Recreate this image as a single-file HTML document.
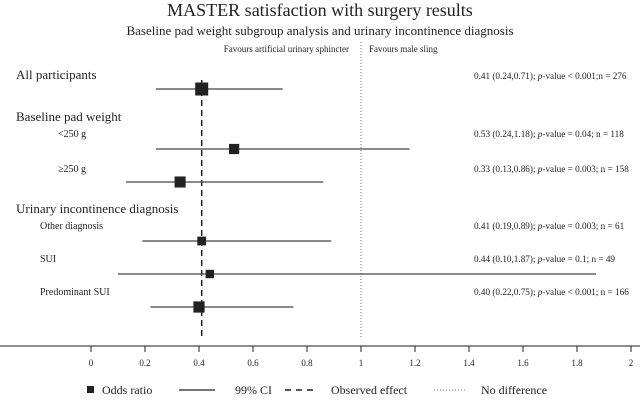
<!DOCTYPE html>
<html><head><meta charset="utf-8"><style>
body{margin:0;background:#fff;}
svg{display:block;font-family:"Liberation Serif",serif;}
</style></head><body>
<svg width="640" height="404" viewBox="0 0 640 404">
<text x="320" y="16" font-size="18" text-anchor="middle" fill="#222">MASTER satisfaction with surgery results</text>
<text x="320" y="35" font-size="13" text-anchor="middle" fill="#222">Baseline pad weight subgroup analysis and urinary incontinence diagnosis</text>
<text x="349" y="52" font-size="9" text-anchor="end" fill="#222">Favours artificial urinary sphincter</text>
<text x="369" y="52" font-size="9" fill="#222">Favours male sling</text>
<g id="plot"></g>
</svg>
<script>
const labels=["All participants","<250 g","≥250 g","Other diagnosis","SUI","Predominant SUI"];
const orValues=[0.41,0.53,0.33,0.41,0.44,0.40];
const ciLow=[0.24,0.24,0.13,0.19,0.10,0.22];
const ciHigh=[0.71,1.18,0.86,0.89,1.87,0.75];
const sampleN=[276,118,158,61,49,166];
const pTexts=["< 0.001;","= 0.04;","= 0.003;","= 0.003;","= 0.1;","< 0.001;"];
const ticks=[0,0.2,0.4,0.6,0.8,1,1.2,1.4,1.6,1.8,2];
const observed=0.41;
const NS="http://www.w3.org/2000/svg";
const g=document.getElementById('plot');
const x=v=>91+v*270;
const rowY=[89,149,182,241,274,307];
const labY=[79,137,172,229,262,295];
const labX=[16,58,58,40,40,40];
const labSize=[13,10,10,10,10,10];
function mk(t,a){const e=document.createElementNS(NS,t);for(const k in a)e.setAttribute(k,a[k]);g.appendChild(e);return e;}
let h=mk('text',{x:16,y:121,'font-size':13,fill:'#222'});h.textContent='Baseline pad weight';


h=mk('text',{x:16,y:213,'font-size':13,fill:'#222'});h.textContent='Urinary incontinence diagnosis';


let l=mk('line',{x1:x(1),x2:x(1),y1:42,y2:337,stroke:'#777','stroke-width':1,'stroke-dasharray':'1,2'});


l=mk('line',{x1:x(observed),x2:x(observed),y1:80,y2:338,stroke:'#222','stroke-width':1.5,'stroke-dasharray':'6,4'});


const maxN=Math.max(...sampleN);
labels.forEach((lab,i)=>{
  const t=mk('text',{x:labX[i],y:labY[i],'font-size':labSize[i],fill:'#222'});t.textContent=lab;
  
  
  const c=mk('line',{x1:x(ciLow[i]),x2:x(ciHigh[i]),y1:rowY[i],y2:rowY[i],stroke:'#444','stroke-width':1.3});
  
  
  const s=5+8*Math.sqrt(sampleN[i]/maxN);
  const r=mk('rect',{x:x(orValues[i])-s/2,y:rowY[i]-s/2,width:s,height:s,fill:'#222'});
  
  
  const rt=mk('text',{x:474,y:labY[i],'font-size':9.2,fill:'#222'});
  rt.innerHTML=orValues[i].toFixed(2)+' ('+ciLow[i].toFixed(2)+','+ciHigh[i].toFixed(2)+'); <tspan font-style="italic">p</tspan>-value '+pTexts[i]+(i==0?'':' ')+'n = '+sampleN[i];
  
  
});
l=mk('line',{x1:0,x2:640,y1:346,y2:346,stroke:'#222','stroke-width':1});


ticks.forEach(v=>{
  const tk=mk('line',{x1:x(v),x2:x(v),y1:346,y2:352,stroke:'#222'});
  
  
  const tl=mk('text',{x:x(v),y:366,'font-size':9,'text-anchor':'middle',fill:'#222'});tl.textContent=String(v);
  
  
});
let e=mk('rect',{x:87,y:386,width:7,height:7,fill:'#222'});


e=mk('line',{x1:179,x2:215,y1:390,y2:390,stroke:'#222','stroke-width':1.3});


e=mk('line',{x1:285,x2:318,y1:390,y2:390,stroke:'#222','stroke-width':1.5,'stroke-dasharray':'6,5'});


e=mk('line',{x1:434,x2:467,y1:390,y2:390,stroke:'#777','stroke-width':1,'stroke-dasharray':'1,2'});


[[102,'Odds ratio'],[235,'99% CI'],[331,'Observed effect'],[481,'No difference']].forEach(([lx,tx])=>{
  const t=mk('text',{x:lx,y:394,'font-size':12,fill:'#222'});t.textContent=tx;
  
  
});
</script>
</body></html>
